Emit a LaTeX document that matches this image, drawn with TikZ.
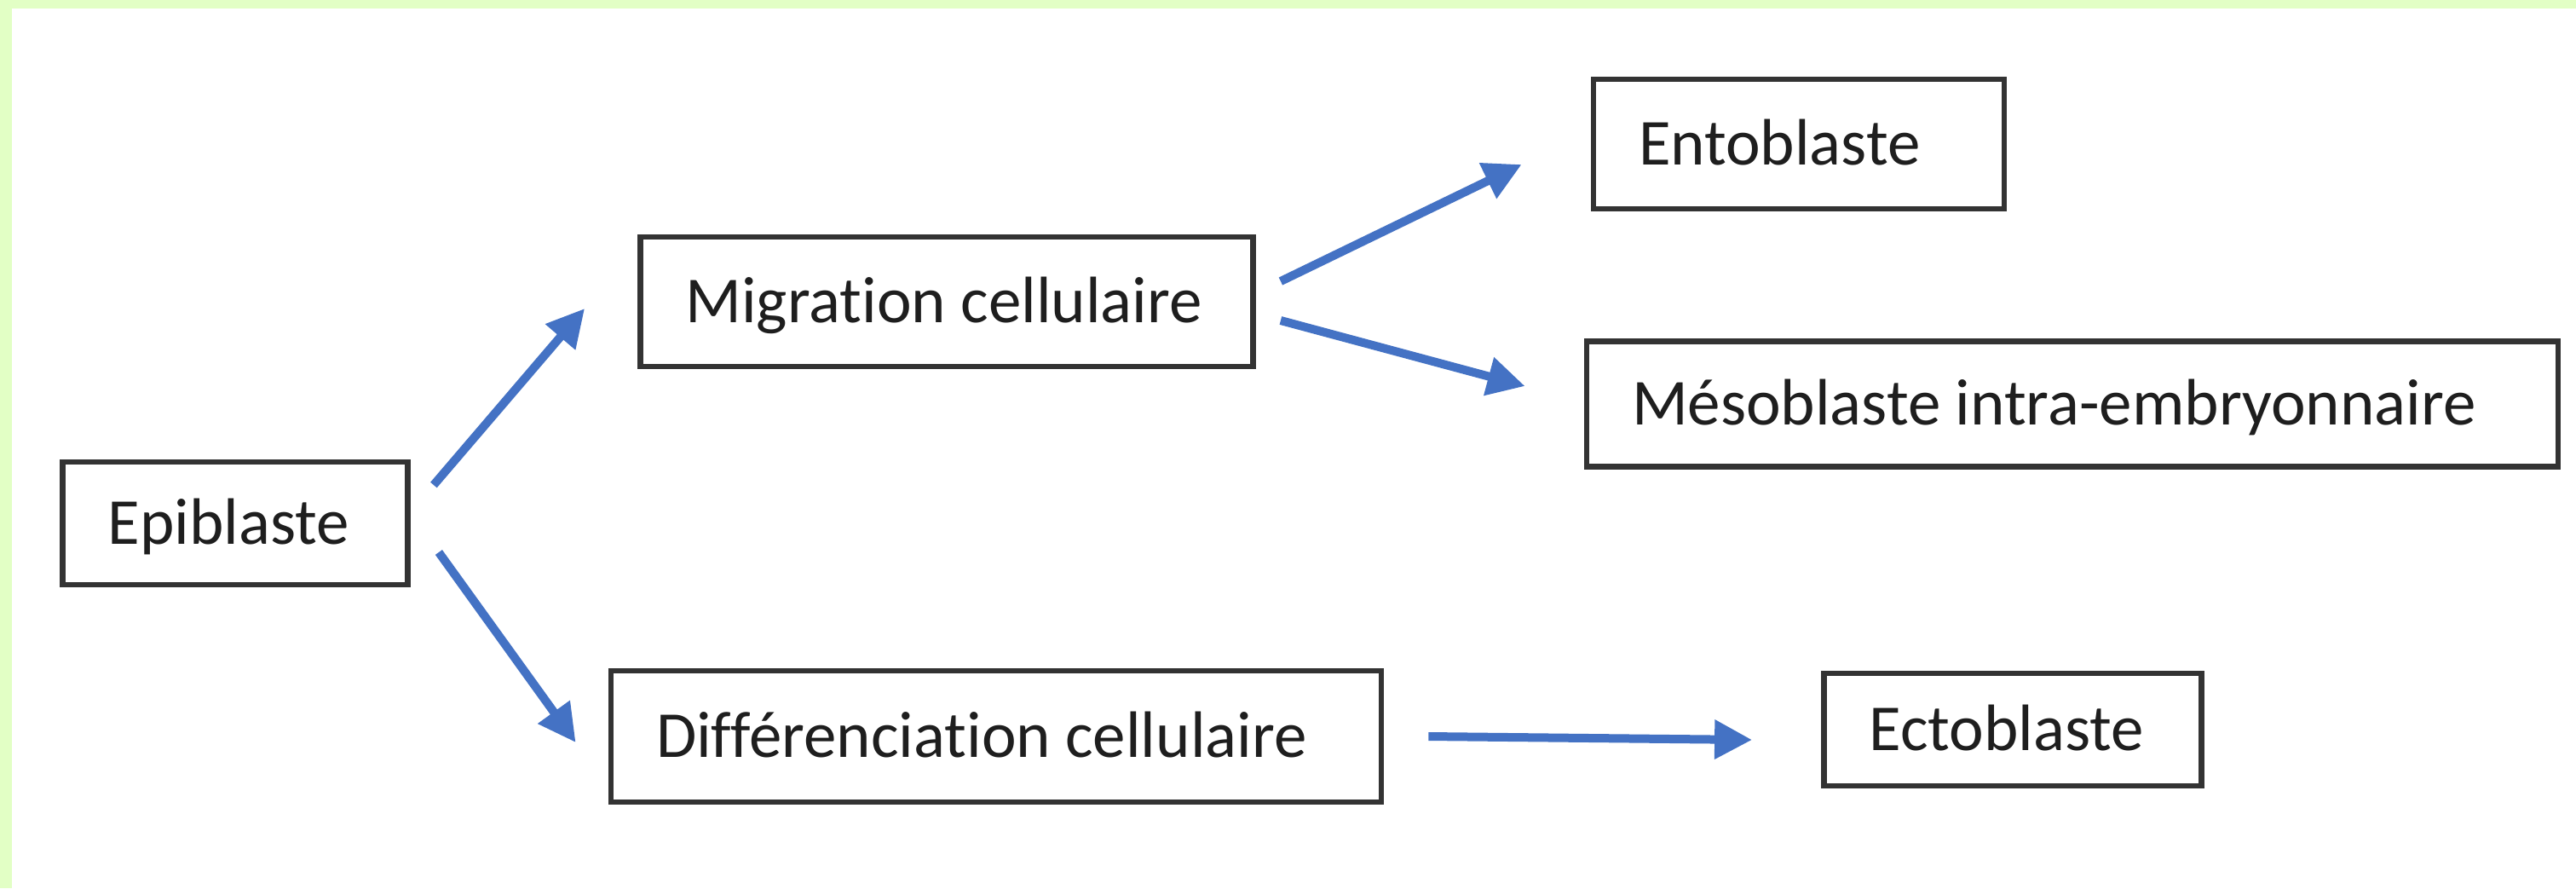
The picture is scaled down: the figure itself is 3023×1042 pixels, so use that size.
\documentclass[tikz,border=0pt]{standalone}
\usepackage{fontspec}
\setmainfont{Carlito}[Ligatures=NoCommon]
\usetikzlibrary{arrows.meta}
\definecolor{bggreen}{HTML}{E2FFC5}
\definecolor{arrowblue}{HTML}{4472C4}
\definecolor{boxline}{HTML}{333333}
\definecolor{txt}{HTML}{1E1E1E}
\tikzset{
  box/.style={draw=boxline, line width=1.7pt, rectangle, inner sep=0pt, fill=white,
    text=txt, font=\fontsize{19.25}{23}\selectfont, text height=12.4pt, text depth=0pt},
  flow/.style={draw=arrowblue, line width=2.5pt, -{Triangle[length=11pt,width=11pt]}}
}
\newcommand{\boxtext}[2]{\makebox[#1][l]{\hspace{13.25pt}#2}}
\begin{document}
\begin{tikzpicture}[x=0.25pt,y=-0.25pt]
\useasboundingbox (0,0) rectangle (3023,1042);
\fill[white] (0,0) rectangle (3023,1042);
\fill[bggreen] (0,0) rectangle (3023,10);
\fill[bggreen] (0,0) rectangle (14,1042);

\node[box, minimum height=36pt] (epi) at (276,614) {\boxtext{101.25pt}{Epiblaste}};
\node[box, minimum height=38pt] (mig) at (1111,354) {\boxtext{179.75pt}{Migration cellulaire}};
\node[box, minimum height=38.5pt] (diff) at (1169,864) {\boxtext{226pt}{Différenciation cellulaire}};
\node[box, minimum height=38pt] (ento) at (2111,169) {\boxtext{120.5pt}{Entoblaste}};
\node[box, minimum height=36.75pt] (meso) at (2432,474) {\boxtext{285pt}{Mésoblaste intra-embryonnaire}};
\node[box, minimum height=33pt] (ecto) at (2362,856) {\boxtext{110.75pt}{Ectoblaste}};

\draw[flow] ([shift={(27,-45)}]epi.east) -- ([shift={(-62,8)}]mig.west);
\draw[flow] ([shift={(33,34)}]epi.east) -- ([shift={(-38,7)}]diff.west);
\draw[flow] ([shift={(29,-24)}]mig.east) -- ([shift={(-81,24)}]ento.west);
\draw[flow] ([shift={(29,22)}]mig.east) -- ([shift={(-69,-21)}]meso.west);
\draw[flow] ([shift={(52,0)}]diff.east) -- ([shift={(-81,12)}]ecto.west);
\end{tikzpicture}
\end{document}
